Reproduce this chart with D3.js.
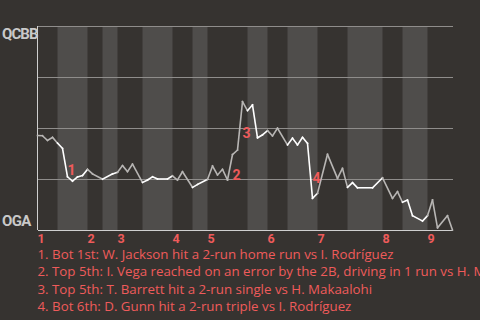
<!DOCTYPE html>
<html><head><meta charset="utf-8">
<script src="https://cdn.jsdelivr.net/npm/d3@7"></script>
<style>
html,body{margin:0;padding:0;background:#363330;overflow:hidden;}
svg{display:block;}
</style></head>
<body>
<svg id="chart" width="480" height="320"></svg>
<script>
// ---- data ----
const teamTop = "QCBB";
const teamBottom = "OGA";
// play index of each drawn vertex and the win-probability (share toward top team)
const plays = [0,1,2,3,4,5,6,7,8,9,10,11,13,15,16,17,18,19,21,22,23,24,26,27,28,29,31,32,34,35,36,37,38,39,40,41,42,43,44,45,46,47,48,50,51,52,53,54,55,56,58,60,61,62,63,64,67,69,71,72,73,74,75,77,78,79,80,82,83];
const wp    = [0.463,0.462,0.439,0.454,0.426,0.400,0.261,0.240,0.260,0.267,0.297,0.275,0.249,0.275,0.283,0.316,0.286,0.323,0.233,0.245,0.261,0.250,0.250,0.265,0.245,0.286,0.209,0.223,0.248,0.314,0.270,0.297,0.245,0.370,0.392,0.629,0.585,0.613,0.452,0.466,0.487,0.461,0.499,0.417,0.450,0.417,0.454,0.425,0.155,0.180,0.371,0.253,0.302,0.209,0.232,0.207,0.207,0.256,0.155,0.188,0.136,0.147,0.070,0.044,0.070,0.147,0.011,0.070,0.000];
const totalPlays = 83;
// half-inning start plays (top, bottom) for innings 1..9
const inningLabels = ["1","2","3","4","5","6","7","8","9"];
const topStart     = [0,10,16,27,34,46,56,69,78];
const bottomStart  = [4,13,21,31,42,50,62,73,null];
const yTicks = [0,0.25,0.5,0.75,1];
// key events: [label, play index before, play index after]
const eventIds   = ["1","2","3","4"];
const eventFrom  = [5,38,40,54];
const eventTo    = [6,39,41,55];
const eventTexts = [
  "1. Bot 1st: W. Jackson hit a 2-run home run vs I. Rodríguez",
  "2. Top 5th: I. Vega reached on an error by the 2B, driving in 1 run vs H. Makaalohi",
  "3. Top 5th: T. Barrett hit a 2-run single vs H. Makaalohi",
  "4. Bot 6th: D. Gunn hit a 2-run triple vs I. Rodríguez"
];

// ---- layout ----
const svg = d3.select("#chart");
const W = 480, H = 320;
const m = {left:37.5, right:27.5, top:26, bottom:90};
const x = d3.scaleLinear().domain([0,totalPlays]).range([m.left, W-m.right]);
const y = d3.scaleLinear().domain([0,1]).range([H-m.bottom, m.top]);
const RED = "#ef5b5b";
const FONT = "'Open Sans', Roboto, sans-serif";
const BOLDFONT = "Roboto, 'Open Sans', sans-serif";

svg.append("rect").attr("width",W).attr("height",H).attr("fill","#363330");

// half-inning bands (bottom halves shaded)
const halves = [];
for (let i=0;i<inningLabels.length;i++){
  const tEnd = bottomStart[i]!==null ? bottomStart[i] : (i+1<topStart.length?topStart[i+1]:totalPlays);
  halves.push({s:topStart[i], e:tEnd, bottom:false});
  if (bottomStart[i]!==null){
    const bEnd = i+1<topStart.length?topStart[i+1]:totalPlays;
    halves.push({s:bottomStart[i], e:bEnd, bottom:true});
  }
}
svg.append("g").selectAll("rect").data(halves.filter(h=>h.bottom)).join("rect")
  .attr("x",d=>x(d.s)).attr("width",d=>x(d.e)-x(d.s))
  .attr("y",y(1)).attr("height",y(0)-y(1))
  .attr("fill","#4f4d4b");

// grid lines
svg.append("g").selectAll("line").data(yTicks).join("line")
  .attr("x1",x(0)).attr("x2",x(totalPlays))
  .attr("y1",d=>y(d)).attr("y2",d=>y(d))
  .attr("stroke",d=>d===0?"#cfcfcf":"#8f8d8b").attr("stroke-width",1)
  .attr("shape-rendering","crispEdges");
// left axis line
svg.append("line").attr("x1",x(0)).attr("x2",x(0)).attr("y1",y(1)).attr("y2",y(0))
  .attr("stroke","#cfcfcf").attr("shape-rendering","crispEdges");

// team labels
svg.append("text").attr("x",2).attr("y",y(1)+13).text(teamTop)
  .attr("font-family",BOLDFONT).attr("font-weight","bold").attr("font-size",15)
  .attr("fill","#c9c9c9").attr("letter-spacing","-0.9");
svg.append("text").attr("x",2).attr("y",y(0)-4).text(teamBottom)
  .attr("font-family",BOLDFONT).attr("font-weight","bold").attr("font-size",15)
  .attr("fill","#c9c9c9").attr("letter-spacing","-0.7");

// win-probability line, coloured per half-inning
const pts = plays.map((p,i)=>({p, v:wp[i]}));
const halfOf = p => halves.find(h=>p>h.s && p<=h.e) || halves[0];
const line = d3.line().x(d=>x(d.p)).y(d=>y(d.v));
const segs = [];
for (let i=1;i<pts.length;i++){
  segs.push({a:pts[i-1], b:pts[i], bottom:halfOf(pts[i].p).bottom});
}
svg.append("g").selectAll("path").data(segs).join("path")
  .attr("d",d=>line([d.a,d.b]))
  .attr("fill","none")
  .attr("stroke",d=>d.bottom?"#ffffff":"#b8b6b4")
  .attr("stroke-width",1.6)
  .attr("stroke-linecap","square");

// event markers
const valAt = p => wp[plays.indexOf(p)];
svg.append("g").selectAll("text").data(eventIds).join("text")
  .attr("x",(d,i)=>x(eventTo[i]))
  .attr("y",(d,i)=>y((valAt(eventFrom[i])+valAt(eventTo[i]))/2)+12.5)
  .text(d=>d)
  .attr("font-family",BOLDFONT).attr("font-weight","bold").attr("font-size",14)
  .attr("fill",RED);

// inning labels
svg.append("g").selectAll("text").data(inningLabels).join("text")
  .attr("x",(d,i)=>x(topStart[i]))
  .attr("y",y(0)+12.5)
  .text(d=>d)
  .attr("font-family",BOLDFONT).attr("font-weight","bold").attr("font-size",12.5)
  .attr("fill",RED);

// event descriptions
svg.append("g").selectAll("text").data(eventTexts).join("text")
  .attr("x",37.5)
  .attr("y",(d,i)=>259+i*17.3)
  .text(d=>d)
  .attr("font-family",FONT).attr("font-size",13.3)
  .attr("fill",RED);
</script>
</body></html>
